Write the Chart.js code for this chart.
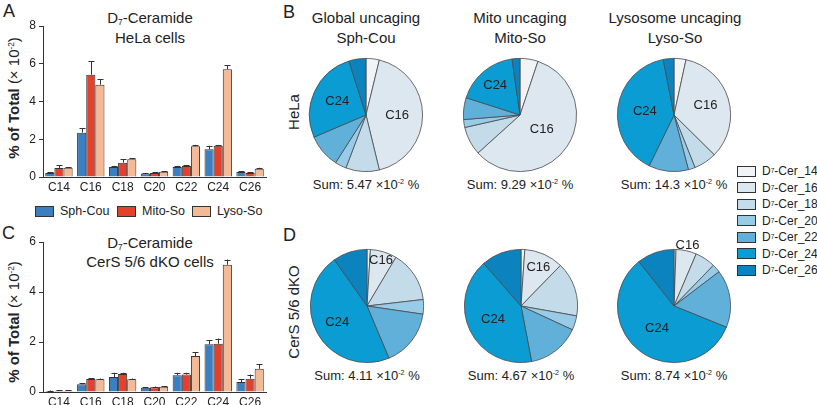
<!DOCTYPE html>
<html><head><meta charset="utf-8">
<script src="https://cdn.jsdelivr.net/npm/chart.js@4.4.0/dist/chart.umd.min.js"></script>
<style>
body{margin:0;width:817px;height:405px;position:relative;overflow:hidden;background:#fff;font-family:"Liberation Sans",Arial,sans-serif;color:#222}
canvas{position:absolute}
.t{position:absolute;white-space:nowrap;transform:translate(-50%,-50%);font-size:15px;line-height:1}
.r{position:absolute;white-space:nowrap;transform:translate(-50%,-50%) rotate(-90deg);font-size:15px;line-height:1}
.s{font-size:13px}
.L{position:absolute;font-size:18px;line-height:1}
sub{font-size:0.55em;vertical-align:-0.35em;line-height:0}
sup{font-size:0.55em;vertical-align:0.6em;line-height:0}
.lg{position:absolute;display:flex;align-items:center;font-size:12.5px;white-space:nowrap}
.pl{font-size:12px}
.bx{display:inline-block;width:17px;height:9px;border:1px solid #333;margin-right:6px}
</style>
</head><body>
<div class="L" style="left:3px;top:2px">A</div>
<div class="L" style="left:283px;top:3px">B</div>
<div class="L" style="left:2px;top:224px">C</div>
<div class="L" style="left:283px;top:226px">D</div>

<div class="t" style="left:150px;top:17px">D<sub>7</sub>-Ceramide</div>
<div class="t" style="left:150px;top:37px">HeLa cells</div>
<div class="t" style="left:150px;top:242px">D<sub>7</sub>-Ceramide</div>
<div class="t" style="left:150px;top:261px">CerS 5/6 dKO cells</div>
<div class="r" style="left:13px;top:98px"><b>% of Total</b> (× 10<sup>-2</sup>)</div>
<div class="r" style="left:13px;top:322px"><b>% of Total</b> (× 10<sup>-2</sup>)</div>

<div class="t" style="left:366px;top:17px">Global uncaging</div>
<div class="t" style="left:366px;top:37px">Sph-Cou</div>
<div class="t" style="left:520px;top:17px">Mito uncaging</div>
<div class="t" style="left:520px;top:37px">Mito-So</div>
<div class="t" style="left:675px;top:17px">Lysosome uncaging</div>
<div class="t" style="left:675px;top:37px">Lyso-So</div>
<div class="r" style="left:293px;top:112px">HeLa</div>
<div class="r" style="left:293px;top:312px">CerS 5/6 dKO</div>

<div id="sums"></div>
<div id="barLegend"></div>
<div id="pieLegend"></div>

<canvas id="cA" width="268" height="200" style="left:0;top:0"></canvas>
<canvas id="cC" width="268" height="190" style="left:0;top:220px"></canvas>
<canvas id="p1" width="150" height="150"></canvas>
<canvas id="p2" width="150" height="150"></canvas>
<canvas id="p3" width="150" height="150"></canvas>
<canvas id="p4" width="150" height="150"></canvas>
<canvas id="p5" width="150" height="150"></canvas>
<canvas id="p6" width="150" height="150"></canvas>

<script>
const categories = ['C14','C16','C18','C20','C22','C24','C26'];
const seriesNames = ['Sph-Cou','Mito-So','Lyso-So'];
// Panel A: HeLa cells (% of total x 10^-2)
const helaSphCou = [0.21,2.35,0.53,0.18,0.53,1.47,0.27];
const helaMitoSo = [0.48,5.42,0.76,0.21,0.58,1.66,0.21];
const helaLysoSo = [0.49,4.89,0.94,0.28,1.63,5.71,0.44];
const helaSphCouErr = [0.03,0.25,0.06,0.02,0.06,0.18,0.03];
const helaMitoSoErr = [0.13,0.72,0.19,0.03,0.04,0.04,0.03];
const helaLysoSoErr = [0.04,0.28,0.05,0.03,0.07,0.21,0.05];
// Panel C: CerS 5/6 dKO cells
const dkoSphCou = [0.04,0.31,0.60,0.17,0.67,1.91,0.40];
const dkoMitoSo = [0.05,0.52,0.72,0.19,0.70,1.93,0.53];
const dkoLysoSo = [0.05,0.51,0.51,0.21,1.44,5.09,0.93];
const dkoSphCouErr = [0.02,0.05,0.17,0.03,0.10,0.16,0.11];
const dkoMitoSoErr = [0.02,0.04,0.05,0.03,0.07,0.21,0.17];
const dkoLysoSoErr = [0.02,0.03,0.03,0.02,0.16,0.21,0.19];
const helaTickMax = 8;
const dkoTickMax = 6;
const tickStep = 2;
// Pies
const pieLegend = ['14','16','18','20','22','24','26'];
const sumLabels = ['5.47','9.29','14.3','4.11','4.67','8.74'];

const FONT = '"Liberation Sans", Arial, sans-serif';
Chart.defaults.font.family = FONT;
const barColors = ['#3b7fc0','#e5402b','#f4b995'];
const pieColors = ['#f1f4f7','#dde7f0','#c4dce9','#97cbe8','#61b0da','#0b9cd3','#0a83bf'];

const errPlugin = {
  id:'errPlugin',
  afterDatasetsDraw(chart){
    const ctx = chart.ctx, ys = chart.scales.y;
    ctx.save();
    ctx.strokeStyle = '#333'; ctx.lineWidth = 1;
    chart.data.datasets.forEach((ds,di)=>{
      const meta = chart.getDatasetMeta(di);
      meta.data.forEach((el,i)=>{
        const v = ds.data[i], e = ds.errs[i];
        const y0 = ys.getPixelForValue(v), y1 = ys.getPixelForValue(v+e);
        const x = Math.round(el.x)+0.5;
        ctx.beginPath();
        ctx.moveTo(x,y0); ctx.lineTo(x,y1);
        ctx.moveTo(x-3,Math.round(y1)+0.5); ctx.lineTo(x+3,Math.round(y1)+0.5);
        ctx.stroke();
      });
    });
    ctx.restore();
  }
};

function barChart(id, series, errs, max, padTop, xH){
  new Chart(document.getElementById(id), {
    type:'bar',
    data:{labels:categories, datasets:series.map((d,i)=>({label:seriesNames[i], data:d, errs:errs[i],
      backgroundColor:barColors[i], borderColor:'#333', borderWidth:1}))},
    options:{responsive:false, animation:false,
      layout:{padding:{top:padTop,right:2,left:0,bottom:0}},
      datasets:{bar:{categoryPercentage:0.86, barPercentage:1}},
      plugins:{legend:{display:false}, tooltip:{enabled:false}},
      scales:{
        x:{grid:{display:false, drawTicks:false, tickLength:0}, border:{color:'#333',width:1},
           ticks:{color:'#222', font:{size:12}, padding:3, maxRotation:0, autoSkip:false},
           afterFit(s){s.height=xH;}},
        y:{min:0, max, ticks:{stepSize:tickStep, color:'#222', font:{size:12}, padding:3},
           grid:{drawOnChartArea:false, tickLength:4, color:'#333'}, border:{color:'#333',width:1},
           afterFit(s){s.width=43;}}
      }},
    plugins:[errPlugin]
  });
}
barChart('cA',[helaSphCou,helaMitoSo,helaLysoSo],[helaSphCouErr,helaMitoSoErr,helaLysoSoErr],helaTickMax,26,23);
barChart('cC',[dkoSphCou,dkoMitoSo,dkoLysoSo],[dkoSphCouErr,dkoMitoSoErr,dkoLysoSoErr],dkoTickMax,22,18);

const sliceLabels = {
  id:'sliceLabels',
  afterDatasetsDraw(chart, args, opts){
    const ctx = chart.ctx, meta = chart.getDatasetMeta(0);
    ctx.save();
    ctx.fillStyle = '#222'; ctx.font = '13px '+FONT;
    ctx.textAlign='center'; ctx.textBaseline='middle';
    (opts.items||[]).forEach(it=>{
      const a = meta.data[it.i];
      const p = a.getProps(['x','y','startAngle','endAngle','outerRadius']);
      const m = (p.startAngle+p.endAngle)/2;
      ctx.fillText(categories[it.i], p.x+Math.cos(m)*p.outerRadius*it.f, p.y+Math.sin(m)*p.outerRadius*it.f);
    });
    ctx.restore();
  }
};
const pieCenters = [[366,115],[520,115],[674,115],[367,306],[521,306],[674,306]];
const pieData = [helaSphCou, helaMitoSo, helaLysoSo, dkoSphCou, dkoMitoSo, dkoLysoSo];
const pieLabelPos = [
  [{i:1,f:0.55},{i:5,f:0.56}],
  [{i:1,f:0.46},{i:5,f:0.68}],
  [{i:1,f:0.58},{i:5,f:0.52}],
  [{i:1,f:0.84},{i:5,f:0.6}],
  [{i:1,f:0.75},{i:5,f:0.55}],
  [{i:1,f:1.1},{i:5,f:0.5}]
];
pieData.forEach((d,k)=>{
  const cv = document.getElementById('p'+(k+1));
  cv.style.left = (pieCenters[k][0]-75)+'px';
  cv.style.top = (pieCenters[k][1]-75)+'px';
  new Chart(cv, {
    type:'pie',
    data:{labels:pieLegend, datasets:[{data:d, backgroundColor:pieColors, borderColor:'#4a4a4a', borderWidth:0.8}]},
    options:{responsive:false, animation:false, layout:{padding:18},
      plugins:{legend:{display:false}, tooltip:{enabled:false}, sliceLabels:{items:pieLabelPos[k]}}},
    plugins:[sliceLabels]
  });
  const s = document.createElement('div');
  s.className='t s';
  s.style.left = pieCenters[k][0]+'px';
  s.style.top = (pieCenters[k][1]+69)+'px';
  s.innerHTML = 'Sum: '+sumLabels[k]+' ×10<sup>-2</sup> %';
  document.getElementById('sums').appendChild(s);
});

// bar legend
const blx = [35,117,192];
seriesNames.forEach((n,i)=>{
  const d = document.createElement('div');
  d.className='lg';
  d.style.left = blx[i]+'px'; d.style.top='204px';
  d.innerHTML = '<span class="bx" style="background:'+barColors[i]+'"></span>'+n;
  document.getElementById('barLegend').appendChild(d);
});
// pie legend
pieLegend.forEach((n,i)=>{
  const d = document.createElement('div');
  d.className='lg pl';
  d.style.left='737px'; d.style.top=(164+i*16.5)+'px';
  d.innerHTML = '<span class="bx" style="background:'+pieColors[i]+'"></span>D<sub>7</sub>-Cer_'+n;
  document.getElementById('pieLegend').appendChild(d);
});
</script>
</body></html>
